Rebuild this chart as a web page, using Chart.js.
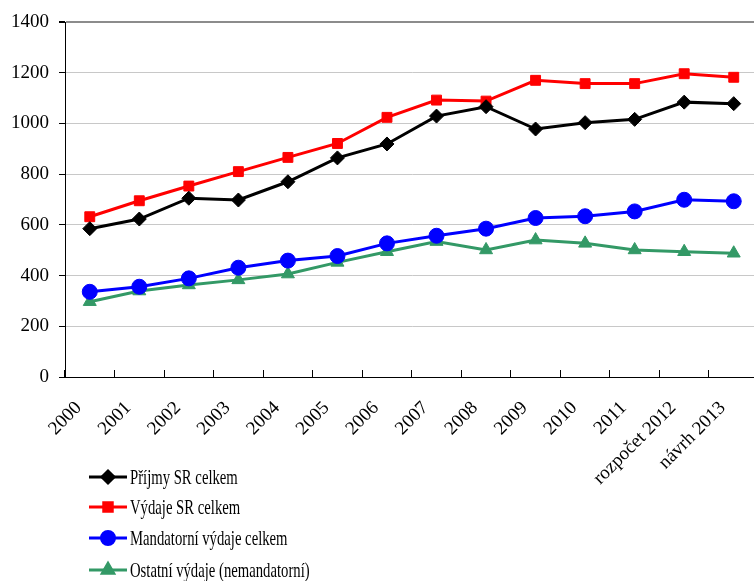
<!DOCTYPE html>
<html>
<head>
<meta charset="utf-8">
<script src="https://cdn.jsdelivr.net/npm/chart.js@4"></script>
<style>
  html, body { margin: 0; padding: 0; background: #fff; overflow: hidden; }
  #wrap { width: 767px; height: 581px; }
  canvas { display: block; }
</style>
</head>
<body>
<div id="wrap"><canvas id="chart" width="767" height="581"></canvas></div>
<script>
// categories and series
const years = ['2000', '2001', '2002', '2003', '2004', '2005', '2006', '2007',
  '2008', '2009', '2010', '2011', 'rozpočet 2012', 'návrh 2013'];
const prijmy = [585, 623, 705, 698, 770, 864, 919, 1029, 1066, 978, 1003, 1016, 1084, 1078];
const vydaje = [632, 695, 753, 810, 866, 921, 1024, 1092, 1088, 1170, 1157, 1157, 1196, 1182];
const mandatorne = [336, 356, 389, 431, 459, 477, 527, 557, 585, 627, 634, 653, 699, 693];
const ostatne = [297, 339, 363, 383, 406, 452, 494, 534, 501, 540, 527, 501, 494, 488];
const yTicks = [0, 200, 400, 600, 800, 1000, 1200, 1400];

const serif = '"Liberation Serif", "Times New Roman", serif';

function series(label, data, color, style, radius) {
  return {
    label: label,
    data: data,
    borderColor: color,
    backgroundColor: color,
    borderWidth: 3,
    pointStyle: style,
    pointRadius: radius,
    pointHoverRadius: radius,
    pointBorderWidth: 1,
    tension: 0
  };
}

// legend drawn under the plot, one item per row
const bottomLegend = {
  id: 'bottomLegend',
  afterDraw(chart) {
    const ctx = chart.ctx;
    const x0 = 89, x1 = 127, textX = 130;
    const rows = [477, 507, 538, 570];
    chart.data.datasets.forEach((ds, i) => {
      const y = rows[i];
      ctx.save();
      ctx.strokeStyle = ds.borderColor;
      ctx.lineWidth = 3;
      ctx.beginPath();
      ctx.moveTo(x0, y);
      ctx.lineTo(x1, y);
      ctx.stroke();
      ctx.fillStyle = ds.backgroundColor;
      Chart.helpers.drawPoint(ctx, {
        pointStyle: ds.pointStyle,
        radius: ds.pointRadius - 1,
        borderWidth: 1,
        rotation: 0
      }, (x0 + x1) / 2, y);
      ctx.restore();

      ctx.save();
      ctx.fillStyle = '#000';
      ctx.font = '21px ' + serif;
      ctx.textBaseline = 'middle';
      ctx.translate(textX, y + 1);
      ctx.scale(0.7, 1);
      ctx.fillText(ds.label, 0, 0);
      ctx.restore();
    });
  }
};

new Chart(document.getElementById('chart').getContext('2d'), {
  type: 'line',
  data: {
    labels: years,
    datasets: [
      series('Příjmy SR celkem', prijmy, '#000000', 'rectRot', 7),
      series('Výdaje SR celkem', vydaje, '#ff0000', 'rect', 7),
      series('Mandatorní výdaje celkem', mandatorne, '#0000ff', 'circle', 7.5),
      series('Ostatní výdaje (nemandatorní)', ostatne, '#339966', 'triangle', 7.5)
    ]
  },
  options: {
    responsive: false,
    animation: false,
    layout: { padding: { top: 22, right: 0, bottom: 0, left: 0 } },
    plugins: {
      legend: { display: false },
      tooltip: { enabled: false }
    },
    scales: {
      x: {
        offset: true,
        grid: {
          offset: true,
          drawOnChartArea: false,
          tickLength: -7,
          color: '#000'
        },
        border: { color: '#000', width: 1 },
        ticks: {
          color: '#000',
          font: { family: serif, size: 19 },
          maxRotation: 45,
          minRotation: 45,
          padding: 27,
          labelOffset: -11,
          autoSkip: false
        },
        afterFit(scale) {
          scale.height = 204;
          scale.paddingLeft = 0;
          scale.paddingRight = 0;
        }
      },
      y: {
        min: 0,
        max: 1400,
        afterBuildTicks(scale) { scale.ticks = yTicks.map(v => ({ value: v })); },
        grid: {
          color: ctx => ctx.tick && ctx.tick.value === 1400 ? '#8c8c8c' : '#c8c8c8',
          lineWidth: ctx => ctx.tick && ctx.tick.value === 1400 ? 2 : 1,
          tickLength: 6,
          tickColor: '#000'
        },
        border: { color: '#000', width: 1 },
        ticks: {
          color: '#000',
          font: { family: serif, size: 19 },
          padding: 10,
          callback: v => String(v)
        },
        afterFit(scale) { scale.width = 65; }
      }
    }
  },
  plugins: [bottomLegend]
});
</script>
</body>
</html>
